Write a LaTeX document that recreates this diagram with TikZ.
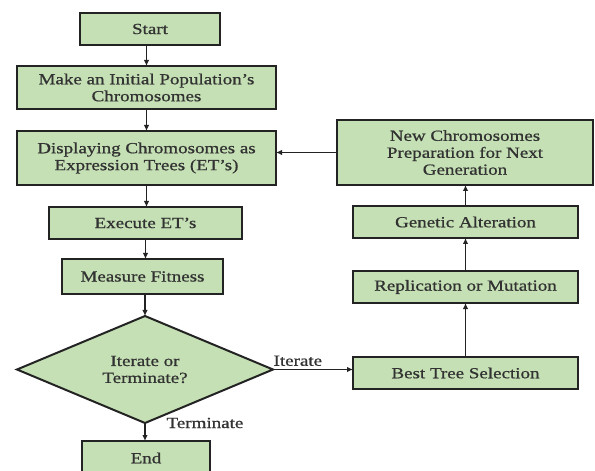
\documentclass[tikz,border=0pt]{standalone}
\usepackage{fontspec}
\setmainfont{Liberation Serif}[FakeStretch=1.23,FakeBold=0.8]
\usetikzlibrary{shapes.geometric,arrows.meta}
\definecolor{boxfill}{RGB}{197,224,180}
\definecolor{boxline}{RGB}{35,35,35}
\definecolor{txt}{RGB}{50,50,50}
\begin{document}
\begin{tikzpicture}[x=1bp,y=-1bp,
  box/.style={draw=boxline, line width=2bp, fill=boxfill, text=txt, align=center,
    inner sep=0pt, outer sep=0pt, font=\fontsize{15.5}{17}\selectfont},
  dec/.style={box, diamond, shape aspect=2.4},
  arr/.style={draw=boxline, line width=1.2bp, -{Latex[length=6bp,width=5.5bp]}},
  lbl/.style={text=txt, inner sep=0pt, font=\fontsize{15.5}{17}\selectfont}]
\useasboundingbox (0,0) rectangle (595,471);
\clip (0,0) rectangle (595,471);
% left column
\node[box, minimum width=140bp, minimum height=32bp] (start) at (150,29) {Start};
\node[box, minimum width=259bp, minimum height=43bp] (make) at (146.5,87.5) {Make an Initial Population’s\\Chromosomes};
\node[box, minimum width=259bp, minimum height=54bp] (disp) at (146.5,158) {Displaying Chromosomes as\\Expression Trees (ET’s)};
\node[box, minimum width=193bp, minimum height=32bp] (exec) at (145.5,223) {Execute ET’s};
\node[box, minimum width=161bp, minimum height=35bp] (meas) at (142.5,276.5) {Measure Fitness};
\node[dec, minimum width=256bp, minimum height=107bp] (dia) at (145,369.5) {Iterate or\\Terminate?};
\node[box, minimum width=128bp, minimum height=34bp] (end) at (146,458) {End};
% right column
\node[box, minimum width=256bp, minimum height=65bp] (new) at (465,152.5) {New Chromosomes\\Preparation for Next\\Generation};
\node[box, minimum width=225bp, minimum height=32bp] (gen) at (465.5,222) {Genetic Alteration};
\node[box, minimum width=225bp, minimum height=32bp] (rep) at (465.5,287) {Replication or Mutation};
\node[box, minimum width=225bp, minimum height=32bp] (best) at (465.5,373) {Best Tree Selection};
% connectors left
\draw[arr] (start.south -| make) -- (make.north);
\draw[arr] (make.south) -- (make.south |- disp.north);
\draw[arr] (disp.south) -- (disp.south |- exec.north);
\draw[arr] (exec.south) -- (exec.south |- meas.north);
\draw[arr] (meas.south -| dia) -- (dia.north);
\draw[arr] (dia.south) -- (dia.south |- end.north)
  node[lbl, pos=0, anchor=west, xshift=21bp] {Terminate};
% connectors right
\draw[arr] (dia.east) -- (dia.east -| best.west)
  node[lbl, pos=0, anchor=south west, yshift=3bp] {Iterate};
\draw[arr] (best.north) -- (rep.south);
\draw[arr] (rep.north) -- (gen.south);
\draw[arr] (gen.north) -- (gen.north |- new.south);
\draw[arr] (new.west) -- (new.west -| disp.east);
\end{tikzpicture}
\end{document}
